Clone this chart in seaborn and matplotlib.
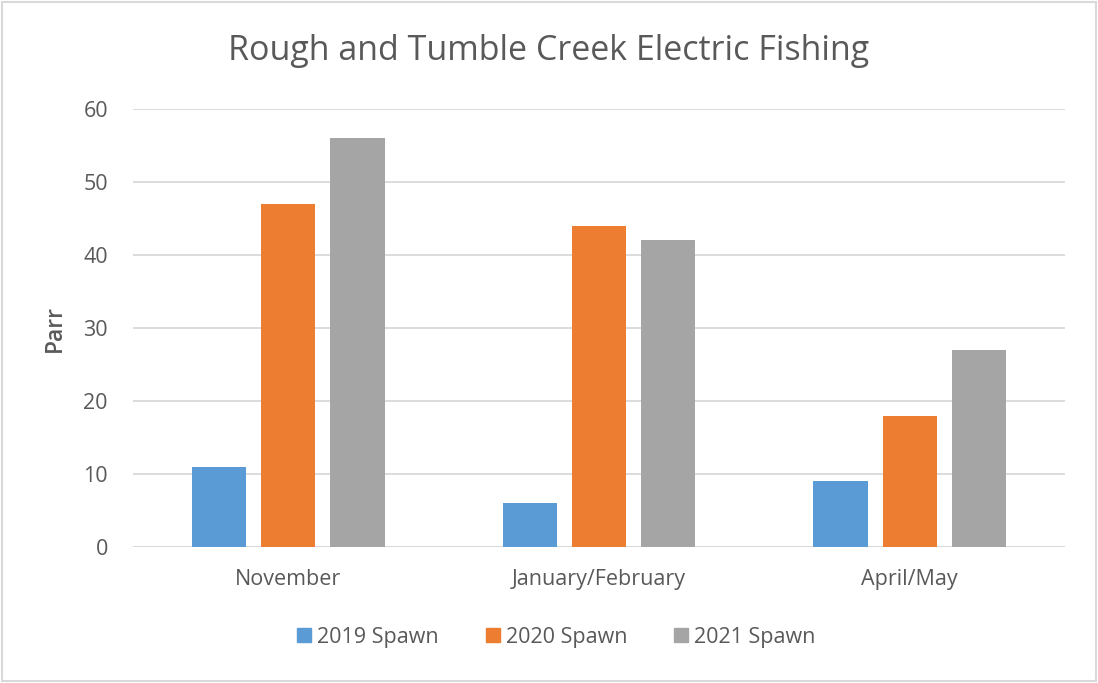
import matplotlib
matplotlib.use("Agg")
import matplotlib.pyplot as plt
from matplotlib.patches import Rectangle
from matplotlib.lines import Line2D
import seaborn as sns
import pandas as pd

months = ["November", "January/February", "April/May"]
series = ["2019 Spawn", "2020 Spawn", "2021 Spawn"]
spawn_2019 = [11, 6, 9]
spawn_2020 = [47, 44, 18]
spawn_2021 = [56, 42, 27]
colors = ["#5B9BD5", "#ED7D31", "#A5A5A5"]

rows = []
for name, vals in zip(series, [spawn_2019, spawn_2020, spawn_2021]):
    for m, v in zip(months, vals):
        rows.append({"Month": m, "Series": name, "Parr": v})
df = pd.DataFrame(rows)

sns.set_style("white")
plt.rcParams["font.family"] = ["Open Sans", "DejaVu Sans"]
text_color = "#595959"

fig = plt.figure(figsize=(10.98, 6.83), dpi=100)
ax = fig.add_axes([0.1211, 0.1991, 0.8489, 0.6413])

sns.barplot(data=df, x="Month", y="Parr", hue="Series", order=months,
            hue_order=series, palette=colors, width=0.668, gap=0.215,
            saturation=1, legend=False, ax=ax, errorbar=None, linewidth=0)

ax.set_ylim(0, 60)
ax.set_xlim(-0.5, 2.5)
ax.set_yticks(range(0, 61, 10))
ax.yaxis.grid(True, color="#D9D9D9", linewidth=1.3)
ax.set_axisbelow(True)
for s in ax.spines.values():
    s.set_visible(False)
ax.axhline(0, color="#D9D9D9", linewidth=1.3, zorder=0.5)
ax.tick_params(axis="both", length=0, labelsize=15.5, colors=text_color)
ax.tick_params(axis="x", pad=16)
ax.tick_params(axis="y", pad=18)
ax.set_xlabel("")
ax.set_ylabel("Parr", fontsize=16.5, color=text_color, fontweight="semibold", labelpad=12)

fig.text(0.5, 0.925, "Rough and Tumble Creek Electric Fishing", ha="center",
         va="center", fontsize=24.5, color=text_color)

handles = [Line2D([], [], marker="s", linestyle="", markersize=10,
                  markerfacecolor=c, markeredgecolor=c) for c in colors]
fig.legend(handles, series, loc="center", bbox_to_anchor=(0.505, 0.067),
           ncol=3, frameon=False, fontsize=15.5, labelcolor=text_color,
           handletextpad=0.1, columnspacing=2.0, handlelength=1.0)

fig.patches.append(Rectangle((0.002, 0.003), 0.996, 0.994, transform=fig.transFigure,
                             fill=False, edgecolor="#D9D9D9", linewidth=1.5))

fig.savefig("out.png", dpi=100, facecolor="white")
